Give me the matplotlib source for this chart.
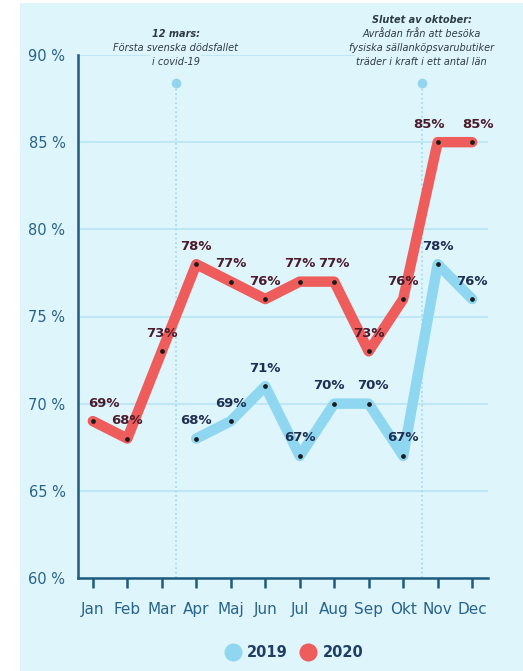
import matplotlib.pyplot as plt
from matplotlib.lines import Line2D
from matplotlib.patches import Rectangle

months = ['Jan', 'Feb', 'Mar', 'Apr', 'Maj', 'Jun', 'Jul', 'Aug', 'Sep', 'Okt', 'Nov', 'Dec']
share_2019 = [None, None, None, 68, 69, 71, 67, 70, 70, 67, 78, 76]
share_2020 = [69, 68, 73, 78, 77, 76, 77, 77, 73, 76, 85, 85]
yticks = [60, 65, 70, 75, 80, 85, 90]

events = [
    (2.4, '12 mars:', ['Första svenska dödsfallet', 'i covid-19']),
    (9.54, 'Slutet av oktober:', ['Avrådan från att besöka', 'fysiska sällanköpsvarubutiker',
                                  'träder i kraft i ett antal län']),
]

# small sideways nudges for a few value labels (in points)
nudge_2020 = {0: 8, 10: -6, 11: 4}
nudge_2019 = {7: -4, 8: 3}

BG = '#dff5fc'
RED = '#ee5c5c'
BLUE = '#8fd7f1'
AXIS = '#1f5b7e'
TICKTXT = '#27648c'
GRID = '#bfe6f4'

fig = plt.figure(figsize=(5.23, 6.71), dpi=100)
fig.patch.set_facecolor('white')
fig.patches.append(Rectangle((20 / 523, 0), 1, 668 / 671, transform=fig.transFigure,
                             facecolor=BG, edgecolor='none', zorder=-5))

ax = fig.add_axes([78 / 523, 93 / 671, (488 - 78) / 523, (578 - 55) / 671])
ax.set_facecolor('none')
x = list(range(len(months)))

ax.set_xlim(-0.43, 11.46)
ax.set_ylim(60, 90)
ax.set_yticks(yticks)
ax.set_yticklabels([f'{v} %' for v in yticks])
ax.set_xticks(x)
ax.set_xticklabels(months)
ax.tick_params(axis='y', length=0, pad=9, labelsize=10.5, labelcolor=TICKTXT)
ax.tick_params(axis='x', length=7, width=1.8, color=AXIS, pad=10, labelsize=11,
               labelcolor=TICKTXT)
for s in ['top', 'right']:
    ax.spines[s].set_visible(False)
for s in ['left', 'bottom']:
    ax.spines[s].set_color(AXIS)
    ax.spines[s].set_linewidth(1.8)
ax.yaxis.grid(True, color=GRID, linewidth=1.4)
ax.set_axisbelow(True)

# event markers with their captions
step = 10.1
for ex, head, body in events:
    ax.plot([ex, ex], [60, 88.4], color='#a6dbee', linewidth=1.3, linestyle=(0, (1, 1.5)),
            zorder=1, clip_on=False)
    ax.plot(ex, 88.4, 'o', color='#93d5ee', markersize=6, zorder=2, clip_on=False)
    lines = [head] + body
    n = len(lines)
    for k, line in enumerate(lines):
        dy = -5 + (n - 1 - k) * step
        ax.annotate(line, xy=(ex, 90), xytext=(0, dy), textcoords='offset points',
                    ha='center', va='center', fontsize=7, style='italic',
                    fontweight='bold' if k == 0 else 'normal', color='#2f3b44',
                    annotation_clip=False, zorder=2,
                    bbox=dict(boxstyle='square,pad=0.15', fc=BG, ec='none'))

x19 = [i for i, v in enumerate(share_2019) if v is not None]
y19 = [share_2019[i] for i in x19]

for xs, ys, col in [(x19, y19, BLUE), (x, share_2020, RED)]:
    ax.plot(xs, ys, color=col, linewidth=7.5, solid_joinstyle='round',
            solid_capstyle='round', zorder=3, clip_on=False)
    ax.plot(xs, ys, 'o', color='#1b1b1b', markersize=2.4, zorder=4, clip_on=False)

for xs, ys, col, nudge in [(x19, y19, '#1e2f52', nudge_2019),
                           (x, share_2020, '#4b1b2b', nudge_2020)]:
    for xi, yi in zip(xs, ys):
        ax.annotate(f'{yi}%', xy=(xi, yi), xytext=(nudge.get(xi, 0), 13),
                    textcoords='offset points', ha='center', va='center',
                    fontsize=9.5, fontweight='bold', color=col, zorder=5,
                    annotation_clip=False)

handles = [Line2D([], [], marker='o', linestyle='none', markersize=12, color=BLUE),
           Line2D([], [], marker='o', linestyle='none', markersize=12, color=RED)]
fig.legend(handles, ['2019', '2020'], loc='center', bbox_to_anchor=(0.556, 0.027),
           ncol=2, frameon=False, handletextpad=0.0, columnspacing=0.4,
           prop={'size': 10.5, 'weight': 'bold'}, labelcolor='#1f3e66')

fig.savefig('out.png', dpi=100)
